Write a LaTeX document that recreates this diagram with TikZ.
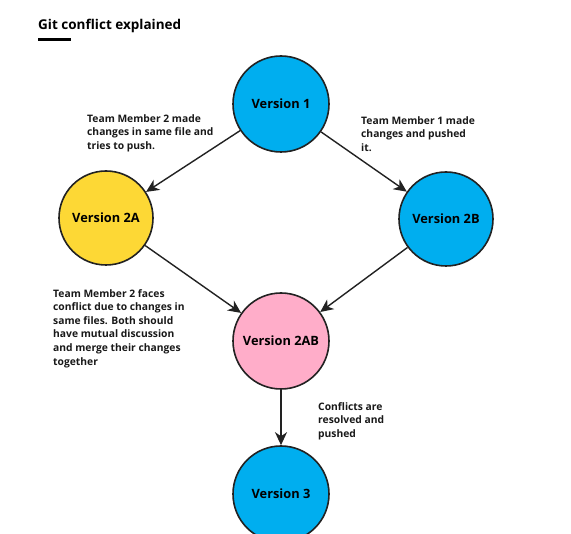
\documentclass[tikz,border=0pt]{standalone}
\usepackage{fontspec}
\setmainfont{Open Sans}
\usetikzlibrary{arrows.meta}
\definecolor{vblue}{RGB}{0,174,239}
\definecolor{vyellow}{RGB}{253,216,53}
\definecolor{vpink}{RGB}{255,173,201}
\definecolor{vline}{RGB}{34,34,34}
\begin{document}
\begin{tikzpicture}[x=1pt,y=-1pt,
  ver/.style={circle,draw=vline,line width=1.6pt,minimum size=96pt,inner sep=0pt,font=\bfseries\fontsize{12.8}{15}\selectfont,text=black},
  note/.style={anchor=north west,align=left,inner sep=0pt,font=\bfseries\fontsize{10.3}{13.6}\selectfont,text=black!90},
  conn/.style={draw=vline,line width=1.4pt,-{Stealth[length=13pt,width=12pt,inset=4pt]}}]
\useasboundingbox (0,0) rectangle (571,534);
\clip (0,0) rectangle (571,534);
\fill[white] (0,0) rectangle (571,534);
\node[anchor=west,inner sep=0pt,font=\bfseries\fontsize{13.5}{16}\selectfont] (title) at (38,25.5) {Git conflict explained};
\draw[line width=3pt,black] (38,40) -- (71,40);
\node[ver,fill=vblue] (v1) at (281,104) {Version 1};
\node[ver,fill=vyellow,minimum size=94pt] (v2a) at (106,218) {Version 2A};
\node[ver,fill=vblue,minimum size=94pt] (v2b) at (446,219) {Version 2B};
\node[ver,fill=vpink] (v2ab) at (281,341) {Version 2AB};
\node[ver,fill=vblue] (v3) at (281,494) {Version 3};
\node[note] (n1) at (87,114) {Team Member 2 made\\changes in same file and\\tries to push.};
\node[note] (n2) at (361,116) {Team Member 1 made\\changes and pushed\\it.};
\node[note] (n3) at (53,289) {Team Member 2 faces\\conflict due to changes in\\same files. Both should\\have mutual discussion\\and merge their changes\\together};
\node[note] (n4) at (318,402) {Conflicts are\\resolved and\\pushed};
\draw[conn] (v1) -- (v2a);
\draw[conn] (v1) -- (v2b);
\draw[conn] (v2a) -- (v2ab);
\draw[conn] (v2b) -- (v2ab);
\draw[conn] (v2ab) -- (v3);
\end{tikzpicture}
\end{document}
